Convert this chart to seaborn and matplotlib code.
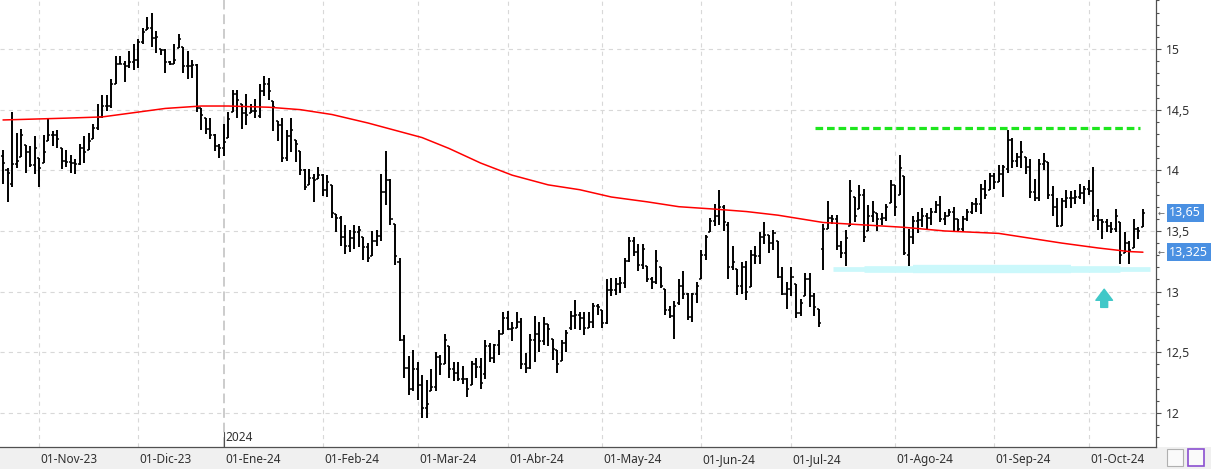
import numpy as np
import pandas as pd
import seaborn as sns
import matplotlib.pyplot as plt
from matplotlib.patches import Rectangle
from matplotlib.ticker import MultipleLocator, FuncFormatter

#--------------------------------------------------------------------------
# Sesiones de la Bolsa de Madrid (días hábiles sin festivos)
festivos = ['2023-12-25', '2023-12-26', '2024-01-01', '2024-03-29', '2024-04-01', '2024-05-01']
fechas = pd.bdate_range('2023-10-20', '2024-10-17')
fechas = fechas[~fechas.isin(pd.to_datetime(festivos))]

maximos = [14.17, 14.02, 14.48, 14.31, 14.34, 14.21, 14.20, 14.28, 14.10, 14.29,
           14.42, 14.32, 14.33, 14.18, 14.17, 14.13, 14.09, 14.22, 14.28, 14.31,
           14.38, 14.55, 14.62, 14.62, 14.75, 14.94, 14.94, 14.90, 14.98, 15.04,
           15.08, 15.17, 15.26, 15.30, 15.15, 15.00, 15.00, 14.90, 15.04, 15.12,
           15.02, 14.98, 14.91, 14.88, 14.51, 14.43, 14.43, 14.30, 14.22, 14.38,
           14.48, 14.66, 14.66, 14.55, 14.63, 14.55, 14.59, 14.71, 14.78, 14.76,
           14.57, 14.41, 14.43, 14.33, 14.43, 14.25, 14.16, 14.01, 14.01, 13.97,
           14.03, 13.97, 13.96, 13.88, 13.64, 13.62, 13.55, 13.51, 13.55, 13.54,
           13.45, 13.40, 13.50, 13.51, 13.97, 14.16, 13.93, 13.56, 13.28, 12.64,
           12.47, 12.52, 12.42, 12.31, 12.27, 12.36, 12.50, 12.48, 12.65, 12.55,
           12.42, 12.42, 12.39, 12.29, 12.43, 12.45, 12.45, 12.60, 12.58, 12.57,
           12.68, 12.83, 12.84, 12.75, 12.83, 12.78, 12.49, 12.65, 12.80, 12.75,
           12.79, 12.73, 12.61, 12.52, 12.60, 12.68, 12.84, 12.93, 12.83, 12.83,
           12.83, 12.91, 12.90, 12.85, 13.10, 13.11, 13.11, 13.12, 13.28, 13.45,
           13.45, 13.39, 13.39, 13.21, 13.12, 13.34, 13.20, 13.02, 12.88, 12.92,
           13.10, 13.17, 12.99, 12.99, 13.08, 13.34, 13.47, 13.61, 13.72, 13.84,
           13.71, 13.57, 13.38, 13.19, 13.24, 13.25, 13.34, 13.38, 13.49, 13.57,
           13.47, 13.51, 13.42, 13.20, 13.08, 13.20, 13.06, 12.94, 13.15, 13.15,
           12.99, 12.86, 13.56, 13.75, 13.63, 13.63, 13.42, 13.51, 13.92, 13.78,
           13.88, 13.85, 13.71, 13.75, 13.65, 13.65, 13.72, 13.92, 13.88, 14.13,
           13.95, 13.52, 13.62, 13.66, 13.69, 13.65, 13.69, 13.75, 13.79, 13.66,
           13.68, 13.70, 13.60, 13.62, 13.68, 13.74, 13.77, 13.89, 13.92, 13.98,
           13.98, 14.04, 14.04, 14.33, 14.27, 14.14, 14.24, 14.11, 14.09, 13.93,
           14.09, 14.14, 14.07, 13.87, 13.77, 13.77, 13.84, 13.83, 13.84, 13.89,
           13.87, 13.92, 14.03, 13.68, 13.60, 13.60, 13.57, 13.68, 13.57, 13.49,
           13.42, 13.60, 13.53, 13.68]

minimos = [13.89, 13.74, 13.86, 14.02, 14.11, 13.98, 14.03, 13.97, 13.86, 14.06,
           14.24, 14.20, 14.18, 14.01, 14.03, 13.98, 13.97, 14.04, 14.06, 14.17,
           14.26, 14.33, 14.43, 14.49, 14.51, 14.71, 14.88, 14.73, 14.84, 14.83,
           14.84, 15.04, 15.16, 15.02, 14.97, 14.95, 14.80, 14.87, 14.88, 15.01,
           14.80, 14.75, 14.76, 14.48, 14.33, 14.30, 14.26, 14.16, 14.10, 14.12,
           14.27, 14.48, 14.43, 14.34, 14.37, 14.47, 14.43, 14.43, 14.61, 14.58,
           14.32, 14.24, 14.07, 14.08, 14.15, 14.07, 13.96, 13.84, 13.88, 13.74,
           13.93, 13.79, 13.78, 13.61, 13.49, 13.38, 13.31, 13.33, 13.35, 13.37,
           13.26, 13.24, 13.29, 13.38, 13.42, 13.71, 13.55, 13.22, 12.59, 12.29,
           12.15, 12.18, 12.11, 11.96, 11.96, 12.18, 12.18, 12.31, 12.40, 12.29,
           12.26, 12.26, 12.24, 12.13, 12.23, 12.29, 12.20, 12.28, 12.42, 12.41,
           12.48, 12.65, 12.68, 12.59, 12.70, 12.36, 12.33, 12.36, 12.42, 12.50,
           12.56, 12.55, 12.44, 12.33, 12.43, 12.50, 12.68, 12.69, 12.68, 12.64,
           12.70, 12.70, 12.81, 12.70, 12.73, 12.96, 12.97, 12.99, 13.03, 13.24,
           13.29, 13.17, 13.19, 13.08, 13.02, 13.06, 13.03, 12.81, 12.78, 12.61,
           12.89, 12.94, 12.77, 12.75, 12.91, 13.10, 13.26, 13.49, 13.54, 13.55,
           13.50, 13.10, 13.18, 12.97, 12.98, 12.93, 13.04, 13.23, 13.23, 13.39,
           13.32, 13.34, 13.11, 12.97, 12.86, 12.96, 12.78, 12.80, 12.96, 12.87,
           12.80, 12.71, 13.18, 13.52, 13.56, 13.34, 13.28, 13.21, 13.54, 13.57,
           13.68, 13.41, 13.50, 13.57, 13.50, 13.55, 13.58, 13.73, 13.62, 13.80,
           13.30, 13.21, 13.39, 13.48, 13.53, 13.52, 13.55, 13.65, 13.57, 13.55,
           13.62, 13.50, 13.49, 13.49, 13.58, 13.64, 13.66, 13.64, 13.76, 13.84,
           13.85, 13.90, 13.78, 13.98, 14.02, 14.03, 14.02, 13.97, 13.77, 13.75,
           13.75, 14.00, 13.76, 13.62, 13.53, 13.54, 13.69, 13.69, 13.72, 13.76,
           13.72, 13.80, 13.58, 13.51, 13.43, 13.49, 13.48, 13.49, 13.23, 13.32,
           13.23, 13.36, 13.43, 13.53]

aperturas = [14.12, 14.00, 13.89, 14.05, 14.11, 14.21, 14.15, 14.04, 14.10, 14.06,
             14.24, 14.29, 14.29, 14.18, 14.08, 14.07, 14.06, 14.05, 14.18, 14.17,
             14.26, 14.35, 14.44, 14.53, 14.53, 14.71, 14.88, 14.88, 14.86, 14.89,
             14.91, 15.06, 15.16, 15.17, 15.09, 15.00, 14.99, 14.89, 14.88, 15.01,
             15.02, 14.86, 14.86, 14.87, 14.51, 14.43, 14.34, 14.29, 14.20, 14.18,
             14.27, 14.48, 14.63, 14.55, 14.47, 14.47, 14.49, 14.45, 14.65, 14.71,
             14.57, 14.41, 14.37, 14.10, 14.28, 14.25, 14.16, 14.00, 13.88, 13.94,
             13.93, 13.96, 13.84, 13.88, 13.64, 13.61, 13.45, 13.38, 13.44, 13.49,
             13.45, 13.37, 13.29, 13.42, 13.46, 13.82, 13.92, 13.56, 13.24, 12.60,
             12.37, 12.20, 12.36, 12.23, 12.04, 12.18, 12.21, 12.46, 12.40, 12.55,
             12.36, 12.33, 12.28, 12.28, 12.23, 12.40, 12.38, 12.32, 12.55, 12.45,
             12.56, 12.65, 12.78, 12.69, 12.70, 12.75, 12.40, 12.37, 12.60, 12.65,
             12.59, 12.73, 12.61, 12.52, 12.43, 12.58, 12.70, 12.80, 12.81, 12.78,
             12.70, 12.75, 12.88, 12.85, 12.74, 13.01, 13.01, 13.06, 13.07, 13.25,
             13.42, 13.33, 13.22, 13.21, 13.10, 13.08, 13.20, 13.02, 12.85, 12.80,
             12.91, 13.05, 12.98, 12.79, 12.98, 13.10, 13.30, 13.49, 13.58, 13.62,
             13.70, 13.55, 13.20, 13.19, 13.05, 13.20, 13.04, 13.30, 13.29, 13.45,
             13.47, 13.40, 13.42, 13.12, 12.98, 13.02, 13.06, 12.82, 12.96, 13.10,
             12.96, 12.86, 13.35, 13.52, 13.61, 13.60, 13.38, 13.32, 13.54, 13.78,
             13.68, 13.80, 13.50, 13.62, 13.65, 13.60, 13.61, 13.73, 13.88, 13.80,
             13.95, 13.30, 13.45, 13.58, 13.59, 13.62, 13.61, 13.66, 13.71, 13.60,
             13.62, 13.66, 13.60, 13.52, 13.60, 13.66, 13.72, 13.72, 13.85, 13.84,
             13.95, 13.90, 13.97, 14.01, 14.25, 14.08, 14.11, 14.11, 14.03, 13.82,
             13.77, 14.05, 14.07, 13.80, 13.70, 13.54, 13.75, 13.77, 13.77, 13.78,
             13.81, 13.85, 13.83, 13.62, 13.59, 13.57, 13.54, 13.52, 13.57, 13.32,
             13.40, 13.36, 13.52, 13.53]

cierres = [14.06, 13.98, 14.05, 14.08, 14.29, 14.15, 14.04, 14.18, 14.02, 14.15,
           14.29, 14.29, 14.26, 14.08, 14.07, 14.06, 14.05, 14.18, 14.15, 14.24,
           14.35, 14.44, 14.53, 14.53, 14.71, 14.88, 14.88, 14.86, 14.89, 14.91,
           15.06, 15.14, 15.17, 15.09, 15.10, 14.99, 14.89, 14.88, 14.91, 15.08,
           14.86, 14.86, 14.87, 14.51, 14.46, 14.34, 14.29, 14.20, 14.18, 14.23,
           14.42, 14.63, 14.58, 14.47, 14.46, 14.49, 14.49, 14.65, 14.71, 14.65,
           14.52, 14.37, 14.10, 14.28, 14.33, 14.22, 14.00, 13.86, 13.94, 13.92,
           13.96, 13.84, 13.90, 13.65, 13.61, 13.45, 13.38, 13.44, 13.49, 13.51,
           13.37, 13.28, 13.42, 13.46, 13.82, 13.92, 13.60, 13.29, 12.60, 12.37,
           12.20, 12.36, 12.23, 12.04, 12.07, 12.21, 12.46, 12.40, 12.60, 12.36,
           12.33, 12.28, 12.28, 12.20, 12.40, 12.38, 12.25, 12.55, 12.45, 12.56,
           12.65, 12.78, 12.69, 12.70, 12.75, 12.40, 12.37, 12.60, 12.65, 12.59,
           12.73, 12.69, 12.53, 12.40, 12.58, 12.66, 12.80, 12.81, 12.78, 12.70,
           12.75, 12.88, 12.87, 12.74, 13.01, 13.01, 13.06, 13.07, 13.25, 13.42,
           13.33, 13.22, 13.35, 13.10, 13.08, 13.25, 13.05, 12.85, 12.80, 12.88,
           13.05, 12.98, 12.79, 12.98, 13.05, 13.30, 13.45, 13.58, 13.62, 13.70,
           13.57, 13.20, 13.24, 13.05, 13.20, 13.00, 13.30, 13.29, 13.45, 13.47,
           13.40, 13.48, 13.12, 12.98, 13.02, 13.12, 12.82, 12.91, 13.10, 12.96,
           12.87, 12.74, 13.52, 13.61, 13.60, 13.38, 13.32, 13.44, 13.83, 13.62,
           13.80, 13.45, 13.62, 13.66, 13.60, 13.61, 13.70, 13.88, 13.70, 14.02,
           13.32, 13.45, 13.58, 13.59, 13.62, 13.61, 13.66, 13.71, 13.60, 13.62,
           13.66, 13.60, 13.52, 13.60, 13.66, 13.72, 13.72, 13.85, 13.80, 13.95,
           13.90, 13.97, 14.03, 14.25, 14.08, 14.11, 14.15, 14.03, 13.82, 13.77,
           14.05, 14.08, 13.80, 13.70, 13.54, 13.75, 13.77, 13.77, 13.78, 13.81,
           13.85, 13.83, 13.62, 13.59, 13.57, 13.54, 13.52, 13.62, 13.30, 13.40,
           13.34, 13.52, 13.50, 13.65]

mm_idx = [0, 14, 22, 29, 36, 44, 50, 59, 66, 73, 81, 88, 93, 99, 106, 113, 121,
          128, 135, 143, 150, 158, 165, 172, 182, 191, 200, 209, 221, 228, 235,
          243, 250, 253]
mm_val = [14.415, 14.43, 14.44, 14.475, 14.51, 14.53, 14.53, 14.52, 14.50, 14.46,
          14.39, 14.32, 14.27, 14.18, 14.06, 13.96, 13.88, 13.84, 13.78, 13.74,
          13.70, 13.68, 13.66, 13.63, 13.57, 13.55, 13.53, 13.50, 13.48, 13.44,
          13.40, 13.36, 13.33, 13.325]

# Líneas dibujadas a mano en el gráfico
resistencia = 14.35
resistencia_tramo = (180.2, 252.3)
soporte = 13.19
soporte_tramo = (184.2, 254.5)
flecha_x = 244.4
flecha_y = (12.87, 13.02)

meses_es = ['Ene', 'Feb', 'Mar', 'Abr', 'May', 'Jun', 'Jul', 'Ago', 'Sep', 'Oct', 'Nov', 'Dic']
#--------------------------------------------------------------------------
df = pd.DataFrame({'fecha': fechas, 'apertura': aperturas, 'maximo': maximos,
                   'minimo': minimos, 'cierre': cierres})
df['i'] = np.arange(len(df))
primeros = df.groupby(df.fecha.dt.to_period('M'))['i'].first().iloc[1:]
mm = pd.DataFrame({'i': mm_idx, 'mm200': mm_val})

sns.set_theme(style='white')
plt.rcParams['font.family'] = ['Noto Sans', 'DejaVu Sans']
plt.rcParams['lines.scale_dashes'] = False

W, H = 1211, 469
fig = plt.figure(figsize=(W / 100, H / 100), dpi=100)
fig.patches.append(Rectangle((0, 0), 1, 22 / H, transform=fig.transFigure,
                             facecolor='#f0f0f0', edgecolor='none', zorder=-5))
ax = fig.add_axes([0, 22 / H, 1156 / W, 447 / H])
ax.set_facecolor('white')
ax.set_xlim(-0.67, 255.9)
ax.set_ylim(11.719, 15.404)

# rejilla
for y in np.arange(12, 15.01, 0.5):
    ax.axhline(y, color='#d8d8d8', lw=0.8, dashes=(3, 3), zorder=0)
for mes, i in primeros.items():
    if mes.month == 1:
        ax.axvline(i, color='#c4c4c4', lw=1.2, dashes=(7, 3.5), zorder=0)
    else:
        ax.axvline(i, color='#d8d8d8', lw=0.8, dashes=(3, 3), zorder=0)

# barras OHLC
ax.vlines(df.i, df.minimo, df.maximo, color='black', lw=1.4, zorder=3)
ax.hlines(df.apertura, df.i - 0.45, df.i, color='black', lw=1.1, zorder=3)
ax.hlines(df.cierre, df.i, df.i + 0.45, color='black', lw=1.1, zorder=3)

# media móvil
sns.lineplot(data=mm, x='i', y='mm200', ax=ax, color='#ff0000', lw=1.1, zorder=4)

# resistencia y soporte
ax.plot(resistencia_tramo, [resistencia] * 2, color='#1ee61e', lw=2.3,
        dashes=(5.5, 2.8), solid_capstyle='butt', zorder=5)
ax.plot(soporte_tramo, [soporte] * 2, color='#cbf8fb', lw=3.4, solid_capstyle='butt', zorder=2)
ax.plot((191, 248), [soporte] * 2, color='#cbf8fb', lw=4.8, solid_capstyle='butt', zorder=2)
ax.plot((202, 237), [soporte] * 2, color='#cbf8fb', lw=6.0, solid_capstyle='butt', zorder=2)
ax.annotate('', xy=(flecha_x, flecha_y[1]), xytext=(flecha_x, flecha_y[0]),
            arrowprops=dict(arrowstyle='simple,head_length=0.8,head_width=1.2,tail_width=0.5',
                            color='#40c8c8', shrinkA=0, shrinkB=0, mutation_scale=10),
            zorder=5)

# ejes
ax.set_xlabel('')
ax.set_ylabel('')
for s in ['left', 'top']:
    ax.spines[s].set_visible(False)
for s in ['right', 'bottom']:
    ax.spines[s].set_color('#505050')
    ax.spines[s].set_linewidth(0.9)

ax.yaxis.tick_right()
ax.yaxis.set_major_locator(MultipleLocator(0.5))
ax.yaxis.set_minor_locator(MultipleLocator(0.1))
ax.yaxis.set_major_formatter(FuncFormatter(lambda v, p: f'{v:g}'.replace('.', ',')))
ax.tick_params(axis='y', which='major', direction='out', length=3.6, width=0.8,
               color='#505050', pad=3.5, labelsize=8.8, labelcolor='#303030')
ax.tick_params(axis='y', which='minor', direction='out', length=2.4, width=0.8, color='#505050')

ax.set_xticks(primeros.values)
ax.tick_params(axis='x', direction='out', length=7.2, width=0.8, color='#505050',
               labelbottom=False)
tr = ax.get_xaxis_transform()
for mes, i in primeros.items():
    etiqueta = f'01-{meses_es[mes.month - 1]}-{mes.year % 100:02d}'
    ax.text(i + 0.3, -0.029, etiqueta, transform=tr, ha='left', va='center',
            fontsize=8.5, color='#303030', clip_on=False)
    if mes.month == 1:
        ax.plot([i, i], [0, 0.034], transform=tr, color='#505050', lw=0.8, clip_on=False)
        ax.text(i + 0.4, 0.021, str(mes.year), transform=tr, ha='left', va='center',
                fontsize=8.5, color='#303030')

# etiquetas de precio en el eje derecho
ty = ax.get_yaxis_transform()
for v in [cierres[-1], mm_val[-1]]:
    ax.text(1.0015, v, '←', transform=ty, ha='left', va='center', fontsize=6,
            color='#606060', family='DejaVu Sans', clip_on=False)
    ax.text(1.0115, v, f'{v:g}'.replace('.', ','), transform=ty, ha='left', va='center',
            fontsize=9, color='white', clip_on=False,
            bbox=dict(boxstyle='square,pad=0.2', fc='#4a90e2', ec='none'))

# iconos de la esquina inferior derecha
fig.patches.append(Rectangle((1167 / W, 3 / H), 16 / W, 17 / H, transform=fig.transFigure,
                             facecolor='#fafafa', edgecolor='#b0b0b0', lw=0.8))
fig.patches.append(Rectangle((1188 / W, 3 / H), 16 / W, 17 / H, transform=fig.transFigure,
                             facecolor='#fafafa', edgecolor='#8a4fd0', lw=1.2))

fig.savefig('out.png', dpi=100)
